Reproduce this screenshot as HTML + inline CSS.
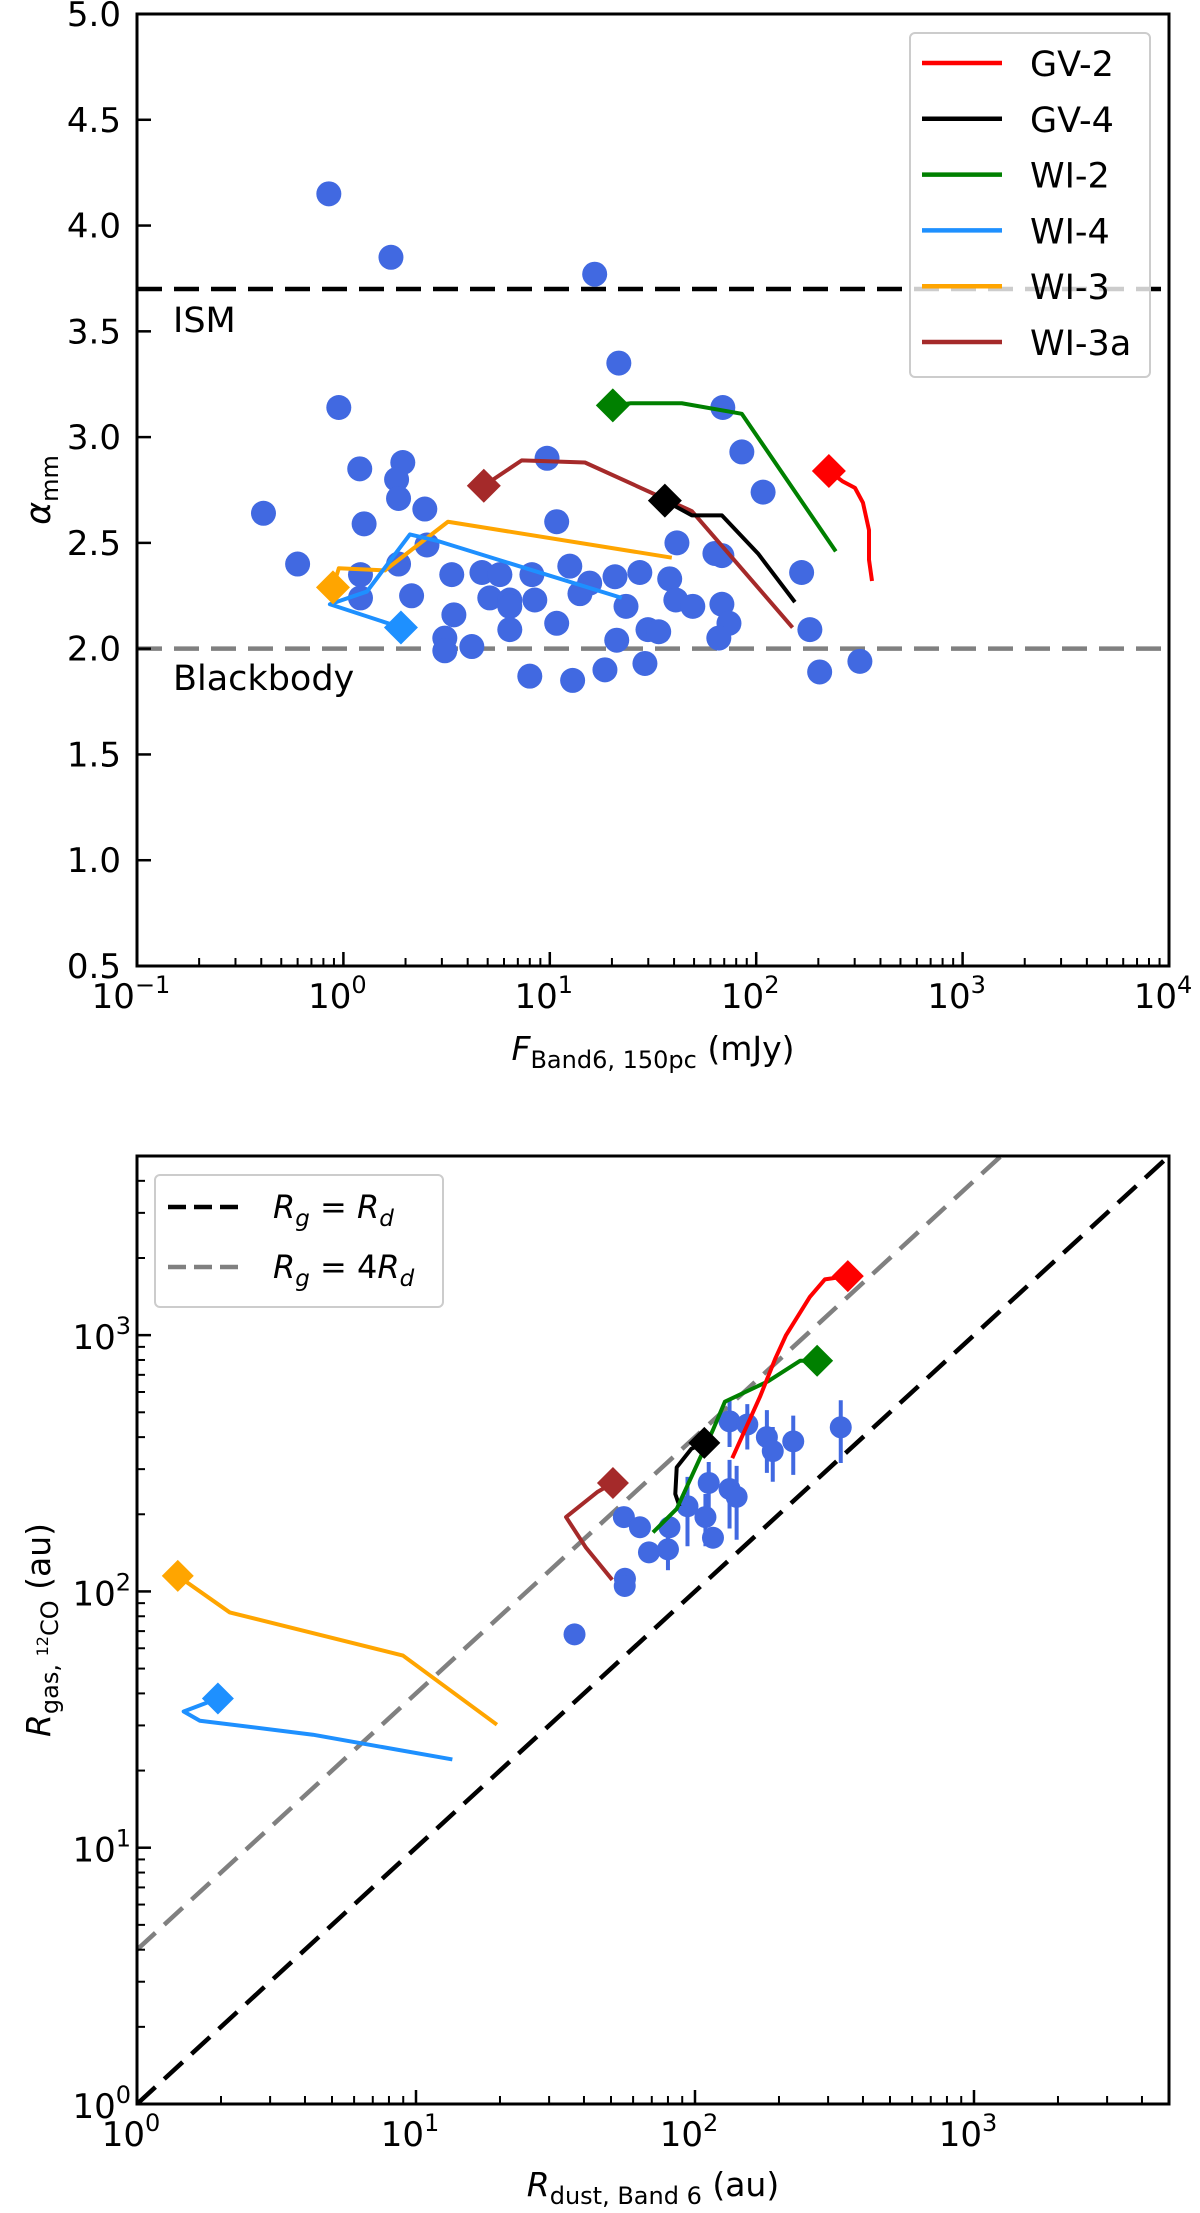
<!DOCTYPE html>
<html><head><meta charset="utf-8"><style>
html,body{margin:0;padding:0;background:#fff;}
svg{display:block;font-family:"DejaVu Sans","Liberation Sans",sans-serif;}
</style></head><body>
<svg id="fig" width="1200" height="2213" viewBox="0 0 1200 2213" xmlns="http://www.w3.org/2000/svg"></svg>
<script>
// ---------- Top panel data ----------
const topFlux = [0.85,1.70,16.5,21.6,0.95,9.7,0.41,1.20,1.94,1.81,1.85,2.48,1.26,10.8,0.60,2.54,1.85,1.21,1.21,2.14,3.35,4.69,5.73,8.19,12.5,15.6,20.7,27.3,5.12,6.40,8.46,14.0,6.40,23.4,3.43,3.10,3.10,4.19,6.40,10.8,21.1,8.0,12.9,18.5,28.9,29.9,68.9,85.2,108,41.3,63.1,68.2,38.1,40.8,49.3,68.2,73.8,65.9,33.7,166,182,203,318];
const topAlpha = [4.15,3.85,3.77,3.35,3.14,2.90,2.64,2.85,2.88,2.80,2.71,2.66,2.59,2.60,2.40,2.49,2.40,2.35,2.24,2.25,2.35,2.36,2.35,2.35,2.39,2.31,2.34,2.36,2.24,2.23,2.23,2.26,2.20,2.20,2.16,2.05,1.99,2.01,2.09,2.12,2.04,1.87,1.85,1.90,1.93,2.09,3.14,2.93,2.74,2.50,2.45,2.44,2.33,2.23,2.20,2.21,2.12,2.05,2.08,2.36,2.09,1.89,1.94];
const modelNames = ["GV-2","GV-4","WI-2","WI-4","WI-3","WI-3a"];
const modelColors = ["#ff0000","#000000","#008000","#1e90ff","#ffa500","#a52a2a"];
const gv2Flux = [225,263,301,329,352,352,364];
const gv2Alpha = [2.84,2.79,2.76,2.69,2.56,2.42,2.32];
const gv4Flux = [36.1,48.8,68.2,102,154];
const gv4Alpha = [2.70,2.63,2.63,2.45,2.22];
const wi2Flux = [20.2,24.7,31.2,43.6,85.2,243];
const wi2Alpha = [3.15,3.16,3.16,3.16,3.11,2.46];
const wi4Flux = [1.90,0.86,1.30,2.10,2.84,22.3];
const wi4Alpha = [2.10,2.21,2.27,2.54,2.51,2.24];
const wi3Flux = [0.89,0.95,1.59,3.21,39.0];
const wi3Alpha = [2.29,2.38,2.37,2.60,2.43];
const wi3aFlux = [4.79,7.31,14.8,48.8,150];
const wi3aAlpha = [2.77,2.89,2.88,2.65,2.10];
const ismAlpha = 3.7, bbAlpha = 2.0;
const topYTicks = [0.5,1.0,1.5,2.0,2.5,3.0,3.5,4.0,4.5,5.0];
const topXTickExp = [-1,0,1,2,3,4];

// ---------- Bottom panel data ----------
const dustR = [133,154,181,190,225,333,112,133,141,94,109,116,81,55.6,63.5,68.4,80,56.1,56,37];
const gasR  = [461,448,400,353,385,437,265,251,234,215,195,162,178,195,178,142,146,112,105,68];
const gasErr= [95,90,110,85,100,120,55,75,75,65,45,15,12,10,10,10,25,8,8,5];
const gv2Rd = [353,292,258,212,194,171,136];
const gv2Rg = [1700,1650,1410,1000,810,575,331];
const gv4Rd = [108,97,86,85,88];
const gv4Rg = [380,360,305,240,215];
const wi2Rd = [274,238,183,128,116,86,70.7];
const wi2Rg = [794,794,661,550,427,210,170];
const wi4Rd = [1.95,1.47,1.68,4.27,13.5];
const wi4Rg = [38.2,34.0,31.3,27.6,22.1];
const wi3Rd = [1.40,2.15,8.98,19.5];
const wi3Rg = [115,82.8,56.2,30.2];
const wi3aRd = [50.8,44.6,34.5,40.7,50.5];
const wi3aRg = [265,244,195,148,111];
const ratioLines = [1,4];
const botTickExp = [0,1,2,3];

const NS="http://www.w3.org/2000/svg";
const svg=document.getElementById('fig');
function mk(tag,attrs,parent){const e=document.createElementNS(NS,tag);for(const k in attrs)e.setAttribute(k,attrs[k]);(parent||svg).appendChild(e);return e;}
function lg(v){return Math.log10(v);}

const T={l:137,r:1169,t:14,b:966};
function X1(v){return T.l+(lg(v)+1)*(T.r-T.l)/5;}
function Y1(v){return T.t+(5-v)*(T.b-T.t)/4.5;}
const B={l:137,r:1169,t:1156,b:2104};
const BX=Math.log10(5000);
function X2(v){return B.l+lg(v)*(B.r-B.l)/BX;}
function Y2(v){return B.b-lg(v)*(B.b-B.t)/BX;}

function diamond(cx,cy,h,color,parent){
  return mk('polygon',{points:`${cx},${cy-h} ${cx+h},${cy} ${cx},${cy+h} ${cx-h},${cy}`,fill:color},parent);
}
function sup(textEl,base,exp){
  textEl.textContent=base;
  const s=document.createElementNS(NS,'tspan');s.setAttribute('dy','-15');s.setAttribute('font-size','24');s.textContent=exp;textEl.appendChild(s);
}

// ================= TOP PANEL =================
const gTop=mk('g',{});



const ism=mk('line',{x1:T.l,x2:T.r,y1:Y1(ismAlpha),y2:Y1(ismAlpha),stroke:'#000','stroke-width':4.5,'stroke-dasharray':'25 12'},gTop);


const bb=mk('line',{x1:T.l,x2:T.r,y1:Y1(bbAlpha),y2:Y1(bbAlpha),stroke:'#808080','stroke-width':4.5,'stroke-dasharray':'25 12'},gTop);


let t=mk('text',{x:173,y:332,'font-size':35},gTop);t.textContent='ISM';


t=mk('text',{x:173,y:690,'font-size':35},gTop);t.textContent='Blackbody';



topFlux.forEach((f,i)=>{
  const c=mk('circle',{cx:X1(f),cy:Y1(topAlpha[i]),r:12.5,fill:'#4169e1'},gTop);
  
  
});
const topModels=[[gv2Flux,gv2Alpha],[gv4Flux,gv4Alpha],[wi2Flux,wi2Alpha],[wi4Flux,wi4Alpha],[wi3Flux,wi3Alpha],[wi3aFlux,wi3aAlpha]];
const drawOrder=[4,3,5,1,2,0];
drawOrder.forEach(k=>{
  const [xs,ys]=topModels[k];
  const p=mk('polyline',{points:xs.map((x,i)=>X1(x)+','+Y1(ys[i])).join(' '),fill:'none',stroke:modelColors[k],'stroke-width':4,'stroke-linejoin':'round'},gTop);
  
  
});
drawOrder.forEach(k=>{
  const [xs,ys]=topModels[k];
  const d=diamond(X1(xs[0]),Y1(ys[0]),17,modelColors[k],gTop);
  
  
});

const f1=mk('rect',{x:T.l,y:T.t,width:T.r-T.l,height:T.b-T.t,fill:'none',stroke:'#000','stroke-width':3},gTop);



topYTicks.forEach(v=>{
  const y=Y1(v);
  mk('line',{x1:T.l,x2:T.l+14,y1:y,y2:y,stroke:'#000','stroke-width':2.5},gTop);
  const tl=mk('text',{x:T.l-16,y:y+12,'font-size':34,'text-anchor':'end'},gTop);
  tl.textContent=v.toFixed(1);
  
  
});
topXTickExp.forEach(e=>{
  const x=X1(Math.pow(10,e));
  mk('line',{x1:x,x2:x,y1:T.b,y2:T.b-14,stroke:'#000','stroke-width':2.5},gTop);
  const tl=mk('text',{x:x-6,y:T.b+42,'font-size':34,'text-anchor':'middle'},gTop);
  sup(tl,'10',e<0?'\u2212'+Math.abs(e):String(e));
  
  
  if(e<4){for(let m=2;m<=9;m++){const xm=X1(m*Math.pow(10,e));mk('line',{x1:xm,x2:xm,y1:T.b,y2:T.b-8,stroke:'#000','stroke-width':2},gTop);}}
});
t=mk('text',{x:653,y:1060,'font-size':33,'text-anchor':'middle'},gTop);
t.innerHTML='<tspan font-style="italic">F</tspan><tspan font-size="24" dy="8">Band6, 150pc</tspan><tspan dy="-8"> (mJy)</tspan>';


t=mk('text',{x:0,y:0,'font-size':35,'text-anchor':'middle',transform:'translate(50,490) rotate(-90)'},gTop);
t.innerHTML='<tspan font-style="italic">α</tspan><tspan font-size="24" dy="8">mm</tspan>';



const lgT=mk('g',{},gTop);


mk('rect',{x:910,y:33,width:240,height:344,rx:5,fill:'#fff','fill-opacity':0.8,stroke:'#cccccc','stroke-width':2},lgT);
modelNames.forEach((n,i)=>{
  const y=63+i*55.8;
  const ent=mk('g',{},lgT);
  
  
  mk('line',{x1:922,x2:1002,y1:y,y2:y,stroke:modelColors[i],'stroke-width':4.5},ent);
  const tx=mk('text',{x:1030,y:y+13,'font-size':35},ent);tx.textContent=n;
});

// ================= BOTTOM PANEL =================
const gB=mk('g',{});


const clip=mk('clipPath',{id:'bclip'},gB);
mk('rect',{x:B.l,y:B.t,width:B.r-B.l,height:B.b-B.t},clip);
const gBc=mk('g',{'clip-path':'url(#bclip)'},gB);

ratioLines.forEach((k,i)=>{
  const ln=mk('line',{x1:X2(1),y1:Y2(k),x2:X2(5000),y2:Y2(5000*k),stroke:i===0?'#000':'#808080','stroke-width':4.5,'stroke-dasharray':'25 12'},gBc);
  
  
});
dustR.forEach((d,i)=>{
  const x=X2(d);
  const eb=mk('line',{x1:x,x2:x,y1:Y2(gasR[i]+gasErr[i]),y2:Y2(Math.max(gasR[i]-gasErr[i],1)),stroke:'#4169e1','stroke-width':4},gBc);
  
  
  const c=mk('circle',{cx:x,cy:Y2(gasR[i]),r:11,fill:'#4169e1'},gBc);
  
  
});
const botModels=[[gv2Rd,gv2Rg],[gv4Rd,gv4Rg],[wi2Rd,wi2Rg],[wi4Rd,wi4Rg],[wi3Rd,wi3Rg],[wi3aRd,wi3aRg]];
drawOrder.forEach(k=>{
  const [xs,ys]=botModels[k];
  const p=mk('polyline',{points:xs.map((x,i)=>X2(x)+','+Y2(ys[i])).join(' '),fill:'none',stroke:modelColors[k],'stroke-width':4,'stroke-linejoin':'round'},gBc);
  
  
});
drawOrder.forEach(k=>{
  const [xs,ys]=botModels[k];
  const d=diamond(X2(xs[0]),Y2(ys[0]),16,modelColors[k],gBc);
  
  
});
const f2=mk('rect',{x:B.l,y:B.t,width:B.r-B.l,height:B.b-B.t,fill:'none',stroke:'#000','stroke-width':3},gB);



botTickExp.forEach(e=>{
  const x=X2(Math.pow(10,e)), y=Y2(Math.pow(10,e));
  mk('line',{x1:x,x2:x,y1:B.b,y2:B.b-14,stroke:'#000','stroke-width':2.5},gB);
  mk('line',{x1:B.l,x2:B.l+14,y1:y,y2:y,stroke:'#000','stroke-width':2.5},gB);
  const tx=mk('text',{x:x-6,y:B.b+42,'font-size':34,'text-anchor':'middle'},gB);
  sup(tx,'10',String(e));
  
  
  const ty=mk('text',{x:B.l-6,y:y+14,'font-size':34,'text-anchor':'end'},gB);
  sup(ty,'10',String(e));
  
  
  for(let m=2;m<=9;m++){
    const v=m*Math.pow(10,e);
    if(v>5000)break;
    const xm=X2(v), ym=Y2(v);
    mk('line',{x1:xm,x2:xm,y1:B.b,y2:B.b-8,stroke:'#000','stroke-width':2},gB);
    mk('line',{x1:B.l,x2:B.l+8,y1:ym,y2:ym,stroke:'#000','stroke-width':2},gB);
  }
});
t=mk('text',{x:653,y:2196,'font-size':33,'text-anchor':'middle'},gB);
t.innerHTML='<tspan font-style="italic">R</tspan><tspan font-size="24" dy="8">dust, Band 6</tspan><tspan dy="-8"> (au)</tspan>';


t=mk('text',{x:0,y:0,'font-size':33,'text-anchor':'middle',transform:'translate(50,1630) rotate(-90)'},gB);
t.innerHTML='<tspan font-style="italic">R</tspan><tspan font-size="24" dy="8">gas, </tspan><tspan font-size="16" dy="-10">12</tspan><tspan font-size="24" dy="10">CO</tspan><tspan dy="-8"> (au)</tspan>';



const lgB=mk('g',{},gB);


mk('rect',{x:155,y:1175,width:288,height:132,rx:5,fill:'#fff','fill-opacity':0.8,stroke:'#cccccc','stroke-width':2},lgB);
const lbls=['<tspan font-style="italic">R</tspan><tspan font-style="italic" font-size="23" dy="8">g</tspan><tspan dy="-8"> = </tspan><tspan font-style="italic">R</tspan><tspan font-style="italic" font-size="23" dy="8">d</tspan>',
 '<tspan font-style="italic">R</tspan><tspan font-style="italic" font-size="23" dy="8">g</tspan><tspan dy="-8"> = 4</tspan><tspan font-style="italic">R</tspan><tspan font-style="italic" font-size="23" dy="8">d</tspan>'];
ratioLines.forEach((k,i)=>{
  const y=1207+i*60;
  const ent=mk('g',{},lgB);
  
  
  mk('line',{x1:168,x2:243,y1:y,y2:y,stroke:i===0?'#000':'#808080','stroke-width':4.5,'stroke-dasharray':'18 8'},ent);
  const tx=mk('text',{x:273,y:y+11,'font-size':32},ent);tx.innerHTML=lbls[i];
});
</script>
</body></html>
